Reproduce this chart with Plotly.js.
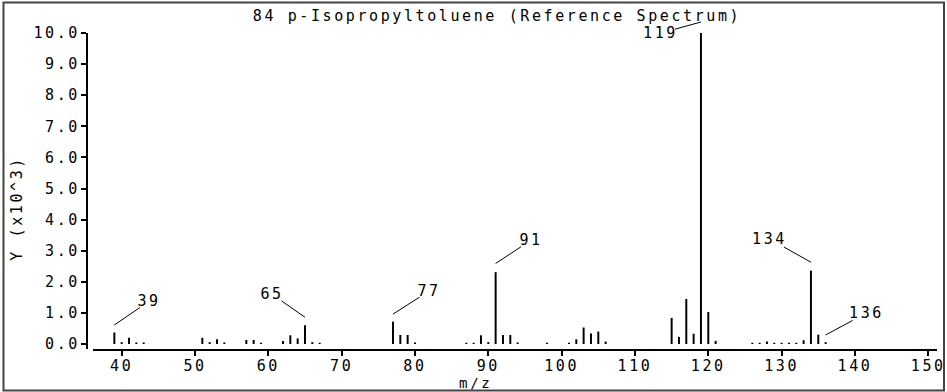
<!DOCTYPE html>
<html>
<head>
<meta charset="utf-8">
<script src="https://cdn.plot.ly/plotly-3.0.1.min.js"></script>
<style>
  html, body { margin: 0; padding: 0; background: #ffffff; }
  #chart { width: 947px; height: 392px; }
  #chart .main-svg text { letter-spacing: 2.6px; }
</style>
</head>
<body>
<div id="chart"></div>
<script>
// m/z values of the peaks
const mz = [39, 40, 41, 42, 43,
            51, 52, 53, 54,
            57, 58, 59,
            62, 63, 64, 65, 66, 67,
            77, 78, 79, 80,
            87, 88, 89, 90, 91, 92, 93, 94,
            98,
            101, 102, 103, 104, 105, 106,
            115, 116, 117, 118, 119, 120, 121,
            126, 127, 128, 129, 130, 131, 132, 133, 134, 135, 136];
// intensities (x10^3)
const intensity = [0.37, 0.06, 0.20, 0.05, 0.05,
                   0.20, 0.06, 0.15, 0.05,
                   0.13, 0.13, 0.04,
                   0.10, 0.28, 0.18, 0.60, 0.06, 0.04,
                   0.72, 0.29, 0.29, 0.05,
                   0.04, 0.04, 0.28, 0.06, 2.31, 0.29, 0.29, 0.05,
                   0.04,
                   0.04, 0.15, 0.53, 0.34, 0.40, 0.08,
                   0.84, 0.23, 1.45, 0.33, 10.0, 1.03, 0.10,
                   0.04, 0.04, 0.08, 0.04, 0.04, 0.04, 0.04, 0.12, 2.36, 0.30, 0.06];
// labelled peaks
const labelMz = [39, 65, 77, 91, 119, 134, 136];
const labelText = ["39", "65", "77", "91", "119", "134", "136"];
const xTickVals = [40, 50, 60, 70, 80, 90, 100, 110, 120, 130, 140, 150];
const yTickVals = [0, 1, 2, 3, 4, 5, 6, 7, 8, 9, 10];

const titleText = "84 p-Isopropyltoluene (Reference Spectrum)";
const xTitle = "m/z";
const yTitle = "Y (x10^3)";

const FONT = "DejaVu Sans Mono";
const fnt = {family: FONT, size: 15, color: "#000"};
const fntSmall = {family: FONT, size: 14, color: "#000"};

// label placement (tip height above bar, text offsets in px)
const labelTipY = [0.61, 0.86, 0.96, 2.59, 9.999, 2.63, 0.29];
const labelAx = [35, -33, 36, 35, -40, -41, 41];
const labelAy = [-24, -23, -23, -23, 11, -23, -22];
const labelYShift = [0, 0, 0, 0, 11, 0, 0];

const annotations = labelMz.map((m, i) => ({
  x: m, y: labelTipY[i], xref: "x", yref: "y",
  text: labelText[i], showarrow: true, arrowhead: 0, arrowwidth: 1,
  arrowcolor: "#000", standoff: 0, ax: labelAx[i], ay: labelAy[i],
  yshift: labelYShift[i], font: fnt, borderpad: 0
}));

// Axis titles placed to match the reference
annotations.push({
  xref: "paper", yref: "paper", x: (17 - 87) / 850, y: (349 - 209) / 316,
  text: yTitle, showarrow: false, textangle: -90, font: fnt,
  xanchor: "center", yanchor: "middle"
});
annotations.push({
  xref: "paper", yref: "paper", x: (475 - 87) / 850, y: (349 - 392) / 316,
  text: xTitle, showarrow: false, font: fntSmall,
  xanchor: "center", yanchor: "bottom", borderpad: 0
});

const trace = {
  type: "bar",
  x: mz,
  y: intensity,
  width: 0.27,
  marker: {color: "#000", line: {width: 0}},
  hoverinfo: "skip"
};

const layout = {
  width: 947, height: 392, autosize: false,
  margin: {l: 87, r: 10, t: 33, b: 43, pad: 0},
  paper_bgcolor: "#fff", plot_bgcolor: "#fff",
  showlegend: false,
  title: {
    text: titleText, font: fnt,
    x: 497 / 947, xanchor: "center", xref: "container",
    y: 1 - 16 / 392, yanchor: "middle", yref: "container"
  },
  xaxis: {
    domain: [6 / 850, 1],
    range: [36.09, 151.19],
    tickmode: "array", tickvals: xTickVals,
    ticktext: xTickVals.map(String),
    showline: true, linewidth: 2, linecolor: "#000",
    ticks: "outside", ticklen: 5, tickwidth: 2, tickcolor: "#000",
    ticklabelstandoff: -3,
    showgrid: false, zeroline: false,
    tickfont: fnt, anchor: "y", fixedrange: true
  },
  yaxis: {
    anchor: "free", position: 0,
    range: [-0.161, 10],
    tickmode: "array", tickvals: yTickVals,
    ticktext: yTickVals.map(v => v.toFixed(1)),
    showline: true, linewidth: 2, linecolor: "#000",
    ticks: "outside", ticklen: 5, tickwidth: 2, tickcolor: "#000",
    ticklabelstandoff: -2,
    showgrid: false, zeroline: false,
    tickfont: fnt, fixedrange: true
  },
  annotations: annotations,
  shapes: [{
    type: "rect", xref: "paper", yref: "paper",
    x0: (3.5 - 87) / 850, x1: (944 - 87) / 850,
    y0: (349 - 390.5) / 316, y1: (349 - 2.5) / 316,
    line: {color: "#444", width: 2}, fillcolor: "rgba(0,0,0,0)"
  }]
};

Plotly.newPlot("chart", [trace], layout, {displayModeBar: false, staticPlot: true});
</script>
</body>
</html>
